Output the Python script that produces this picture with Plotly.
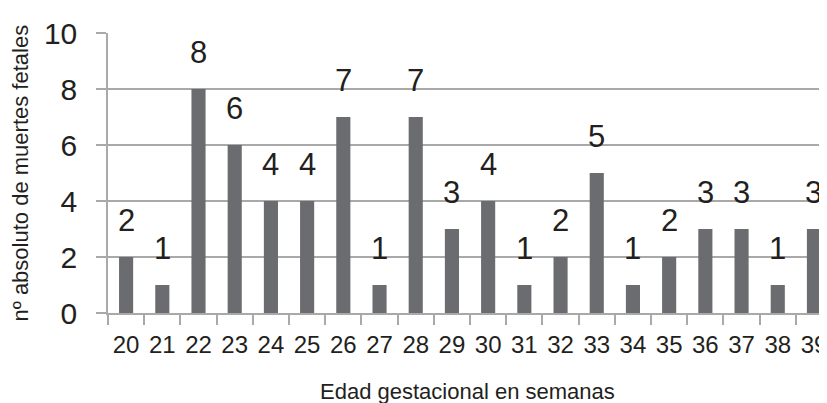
import plotly.graph_objects as go

weeks = [str(w) for w in range(20, 40)]
deaths = [2, 1, 8, 6, 4, 4, 7, 1, 7, 3, 4, 1, 2, 5, 1, 2, 3, 3, 1, 3]
y_ticks = [0, 2, 4, 6, 8, 10]

FONT = "Liberation Sans"
BAR = "#6b6c70"
GRID = "#a9a9a9"
TXT = "#231f20"

fig = go.Figure()
fig.add_trace(go.Bar(x=weeks, y=deaths, marker=dict(color=BAR, line=dict(width=0)),
                     width=0.39))

for i, d in enumerate(deaths):
    fig.add_annotation(x=i, y=d, xref="x", yref="y", text=str(d), showarrow=False,
                       yanchor="bottom", yshift=17,
                       font=dict(family=FONT, size=31, color=TXT))

fig.add_annotation(x=0.5, y=0, xref="paper", yref="paper", yanchor="top", yshift=-64,
                   text="Edad gestacional en semanas", showarrow=False,
                   font=dict(family=FONT, size=22, color=TXT))
fig.add_annotation(x=0, y=0.5, xref="paper", yref="paper", xanchor="right", xshift=-74,
                   textangle=-90, text="nº absoluto de muertes fetales", showarrow=False,
                   font=dict(family=FONT, size=22, color=TXT))

fig.update_layout(
    width=819, height=395,
    margin=dict(l=100, r=0, t=25, b=90),
    plot_bgcolor="white", paper_bgcolor="white",
    showlegend=False,
    font=dict(family=FONT, color=TXT),
)
fig.update_xaxes(
    type="category", range=[-0.5, 19.36], tickson="boundaries", tickangle=0,
    ticks="outside", ticklen=10, tickwidth=1.5, tickcolor=GRID, ticklabelstandoff=9,
    showline=True, linecolor=GRID, linewidth=1.5, showgrid=False, automargin=False,
    tickfont=dict(family=FONT, size=24, color=TXT),
)
fig.update_yaxes(
    range=[0, 10], tickvals=y_ticks, ticks="outside", ticklen=10, tickwidth=1.5,
    tickcolor=GRID, showline=True, linecolor=GRID, linewidth=1.5, automargin=False,
    showgrid=True, gridcolor=GRID, gridwidth=1.5, zeroline=False, ticklabelstandoff=13,
    tickfont=dict(family=FONT, size=30, color=TXT),
)

fig.write_html(
    "out.html",
    post_script="document.documentElement.style.overflow='hidden';document.body.style.overflow='hidden';",
)
